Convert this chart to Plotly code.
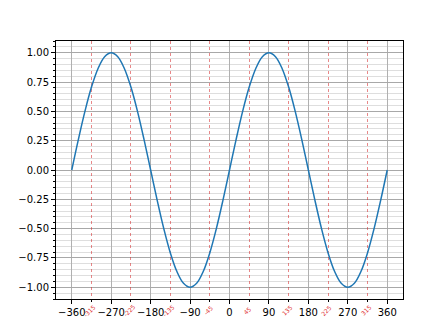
import plotly.graph_objects as go

# Data (degrees, sine value)
angles = [-360, -345, -330, -315, -300, -285, -270, -255, -240, -225, -210, -195,
          -180, -165, -150, -135, -120, -105, -90, -75, -60, -45, -30, -15,
          0, 15, 30, 45, 60, 75, 90, 105, 120, 135, 150, 165,
          180, 195, 210, 225, 240, 255, 270, 285, 300, 315, 330, 345, 360]
values = [0.0, 0.259, 0.5, 0.707, 0.866, 0.966, 1.0, 0.966, 0.866, 0.707, 0.5, 0.259,
          0.0, -0.259, -0.5, -0.707, -0.866, -0.966, -1.0, -0.966, -0.866, -0.707, -0.5, -0.259,
          0.0, 0.259, 0.5, 0.707, 0.866, 0.966, 1.0, 0.966, 0.866, 0.707, 0.5, 0.259,
          0.0, -0.259, -0.5, -0.707, -0.866, -0.966, -1.0, -0.966, -0.866, -0.707, -0.5, -0.259, 0.0]

major_ticks = [-360, -270, -180, -90, 0, 90, 180, 270, 360]
major_labels = ["\u2212360", "\u2212270", "\u2212180", "\u221290", "0", "90", "180", "270", "360"]
minor_ticks = [-315, -225, -135, -45, 45, 135, 225, 315]
minor_labels = ["-315", "-225", "-135", "-45", "45", "135", "225", "315"]
y_ticks = [-1.0, -0.75, -0.5, -0.25, 0.0, 0.25, 0.5, 0.75, 1.0]
y_labels = ["\u22121.00", "\u22120.75", "\u22120.50", "\u22120.25", "0.00", "0.25", "0.50", "0.75", "1.00"]

xr = [-396, 396]
yr = [-1.1, 1.1]

fig = go.Figure()
fig.add_trace(go.Scatter(x=angles, y=values, mode="lines", line=dict(color="#1f77b4", width=1.5, shape="spline"),
                         showlegend=False, hoverinfo="skip"))
# invisible trace to activate the secondary x axis (minor ticks / red dotted grid)
fig.add_trace(go.Scatter(x=[minor_ticks[0]], y=[0], xaxis="x2", mode="markers",
                         marker=dict(opacity=0), showlegend=False, hoverinfo="skip"))

for t, lab in zip(minor_ticks, minor_labels):
    fig.add_annotation(x=t, xref="x", y=0, yref="paper", yanchor="middle", xanchor="center",
                       yshift=-11, xshift=-2, text=lab, textangle=-45, showarrow=False,
                       font=dict(family="DejaVu Sans", size=6, color="#e03030"))

font = dict(family="DejaVu Sans", size=10, color="black")
fig.update_layout(
    width=448, height=336,
    margin=dict(l=56, r=45, t=41, b=37),
    paper_bgcolor="white", plot_bgcolor="white",
    font=font,
    xaxis=dict(range=xr, tickmode="array", tickvals=major_ticks, ticktext=major_labels,
               showgrid=True, gridcolor="#b0b0b0", gridwidth=0.8,
               showline=True, linecolor="black", linewidth=1, mirror=True,
               ticks="outside", ticklen=4, tickcolor="black", zeroline=False, tickfont=font),
    xaxis2=dict(range=xr, overlaying="x", side="bottom", tickmode="array",
                tickvals=minor_ticks, showticklabels=False,
                showgrid=True, gridcolor="rgba(214,39,40,0.55)", gridwidth=0.6, griddash="dot",
                ticks="outside", ticklen=2, tickcolor="black", showline=False, zeroline=False),
    yaxis=dict(range=yr, tickmode="array", tickvals=y_ticks, ticktext=y_labels,
               showgrid=True, gridcolor="#a8a8a8", gridwidth=1.2,
               showline=True, linecolor="black", linewidth=1, mirror=True,
               ticks="outside", ticklen=4, tickcolor="black", zeroline=False, tickfont=font,
               minor=dict(dtick=0.05, tick0=0, showgrid=True, gridcolor="#dedede", gridwidth=0.8,
                          ticks="outside", ticklen=2, tickcolor="black")),
)

fig.write_html("out.html")
